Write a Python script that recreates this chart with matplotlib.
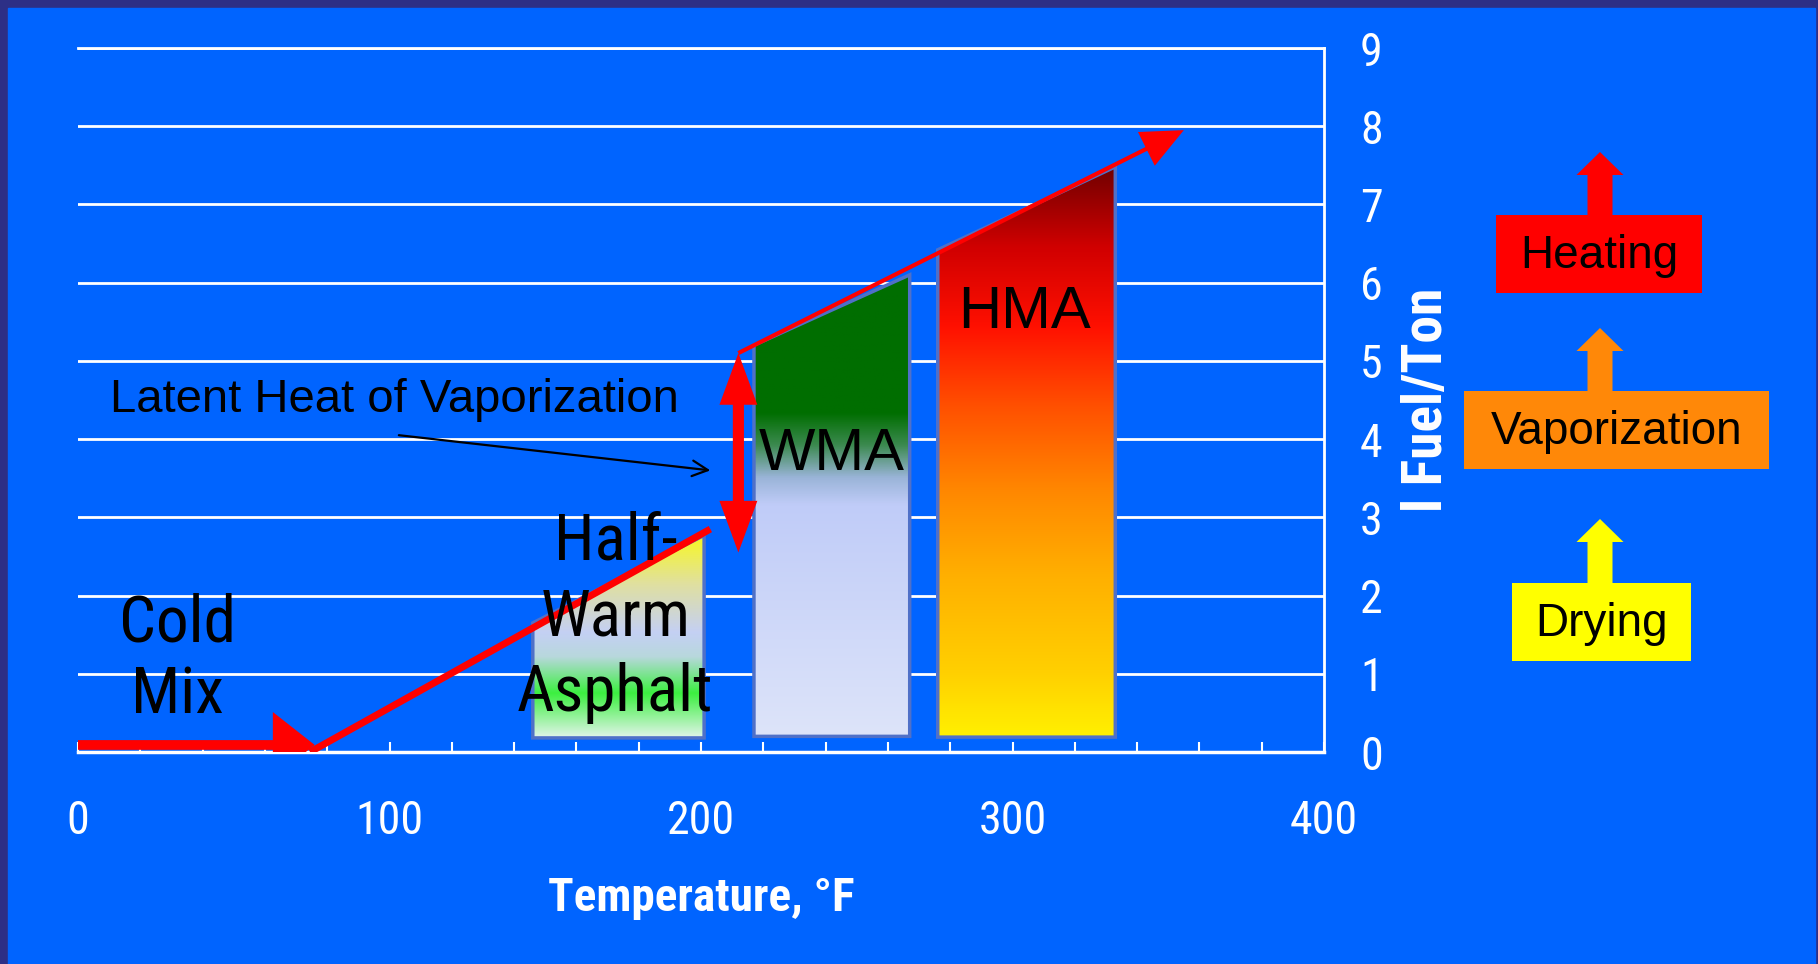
import numpy as np
import matplotlib
matplotlib.use('Agg')
import matplotlib.pyplot as plt
from matplotlib import font_manager
from matplotlib.colors import LinearSegmentedColormap
from matplotlib.patches import Polygon, Rectangle, FancyArrowPatch

# --- data ---
temp_ticks = [0, 100, 200, 300, 400]
fuel_ticks = [0, 1, 2, 3, 4, 5, 6, 7, 8, 9]

zone_labels = ['Half-\nWarm\nAsphalt', 'WMA', 'HMA']
zone_left = [146, 217, 276]
zone_right = [201, 267, 333]
zone_bottom = [0.18, 0.20, 0.19]
zone_top_left = [1.65, 5.20, 6.42]
zone_top_right = [2.77, 6.10, 7.48]
zone_label_x = [172.5, 242, 304]
zone_label_y = [1.72, 3.80, 5.62]

# gradient stops (fraction from bottom, colour)
zone_gradients = [
    [(0.0, '#e2f4ea'), (0.22, '#3cf040'), (0.40, '#b8d8dc'), (0.52, '#c4d0f4'),
     (0.76, '#e0e0a0'), (1.0, '#f8f820')],
    [(0.0, '#dde4fa'), (0.50, '#c0ccf8'), (0.56, '#9ab4d8'), (0.63, '#3c8a50'),
     (0.70, '#006e00'), (1.0, '#006e00')],
    [(0.0, '#fff000'), (0.11, '#ffd000'), (0.28, '#ffb000'), (0.43, '#ff8800'),
     (0.58, '#ff5000'), (0.72, '#ff1000'), (0.86, '#d00000'), (1.0, '#700000')],
]

# red energy path
cold_x = [0, 76]
cold_y = [0.09, 0.09]
ramp_x = [74.5, 203]
ramp_y = [0.0, 2.85]
latent_x = [212, 212]
latent_y = [2.55, 5.1]
heat_x = [212, 355]
heat_y = [5.1, 7.95]

latent_text = 'Latent Heat of Vaporization'
latent_from = (103, 4.05)
latent_to = (203, 3.6)

stage_labels = ['Drying', 'Vaporization', 'Heating']
stage_colors = ['#ffff00', '#ff8808', '#ff0000']

# --- layout ---
W, H = 1818, 964
BLUE = '#0064ff'
installed = {f.name for f in font_manager.fontManager.ttflist}
if 'Roboto Condensed' in installed:
    NARROW, NS = 'Roboto Condensed', 1.0
elif 'Liberation Sans Narrow' in installed:
    NARROW, NS = 'Liberation Sans Narrow', 1.0
else:
    NARROW, NS = 'Liberation Sans', 0.82

fig = plt.figure(figsize=(W / 100, H / 100), dpi=100)
fig.patch.set_facecolor('#2d2f86')

deco = fig.add_axes([0, 0, 1, 1])
deco.set_xlim(0, W)
deco.set_ylim(H, 0)
deco.axis('off')
deco.add_patch(Rectangle((8, 8), W - 11, H - 8, color=BLUE))

ax = fig.add_axes([78 / W, 1 - 752 / H, (1324 - 78) / W, (752 - 48) / H])
ax.set_zorder(2)
ax.set_facecolor('none')

# gradient filled trapezoids
grad = np.linspace(0, 1, 256).reshape(-1, 1)
for i in range(len(zone_labels)):
    verts = [(zone_left[i], zone_bottom[i]), (zone_right[i], zone_bottom[i]),
             (zone_right[i], zone_top_right[i]), (zone_left[i], zone_top_left[i])]
    top = max(zone_top_left[i], zone_top_right[i])
    cmap = LinearSegmentedColormap.from_list('z%d' % i, zone_gradients[i])
    im = ax.imshow(grad, cmap=cmap, origin='lower', aspect='auto', zorder=2,
                   extent=[zone_left[i], zone_right[i], zone_bottom[i], top])
    poly = Polygon(verts, closed=True, facecolor='none', edgecolor='#4f70c8', lw=2.5, zorder=3)
    ax.add_patch(poly)
    im.set_clip_path(poly)

# red arrows
def red_arrow(xs, ys, style, lw, ms):
    a = FancyArrowPatch((xs[0], ys[0]), (xs[1], ys[1]), arrowstyle=style, mutation_scale=ms,
                        color='#ff0000', lw=lw, shrinkA=0, shrinkB=0, zorder=4,
                        joinstyle='miter', capstyle='butt')
    ax.add_patch(a)

red_arrow(cold_x, cold_y, '-|>,head_length=0.7,head_width=0.55', 7, 30)
ax.plot(ramp_x, ramp_y, color='#ff0000', lw=5, zorder=4, solid_capstyle='butt')
red_arrow(latent_x, latent_y, '<|-|>,head_length=0.6,head_width=0.22', 8, 36)
red_arrow(heat_x, heat_y, '-|>,head_length=1.0,head_width=0.45', 3, 25)

# labels on the chart
ax.text(32, 1.19, 'Cold\nMix', ha='center', va='center', fontsize=47 * NS,
        family=NARROW, linespacing=1.2, zorder=5)
ax.text(zone_label_x[0], zone_label_y[0], zone_labels[0], ha='center', va='center',
        fontsize=47 * NS, family=NARROW, linespacing=1.28, zorder=5)
for i in (1, 2):
    ax.text(zone_label_x[i], zone_label_y[i], zone_labels[i], ha='center', va='center',
            fontsize=43, family='Liberation Sans', zorder=5)

ax.text(10.3, 4.5, latent_text, ha='left', va='center', fontsize=34,
        family='Liberation Sans', zorder=5)
ax.annotate('', xy=latent_to, xytext=latent_from,
            arrowprops=dict(arrowstyle='->', color='black', lw=1.6,
                            mutation_scale=28, shrinkA=0, shrinkB=0), zorder=5)

# axes styling
ax.set_xlim(0, 400)
ax.set_ylim(0, 9)
ax.set_xticks(temp_ticks)
ax.set_xticks(np.arange(0, 401, 20), minor=True)
ax.set_yticks(fuel_ticks)
ax.yaxis.tick_right()
ax.grid(axis='y', color='white', lw=2)
ax.set_axisbelow(True)
ax.spines['left'].set_visible(False)
for side in ('top', 'right', 'bottom'):
    ax.spines[side].set_color('white')
    ax.spines[side].set_linewidth(2)
ax.spines['bottom'].set_linewidth(2.5)
ax.tick_params(axis='x', which='both', direction='in', length=7, width=1.5,
               colors='white', pad=34, labelsize=33 * NS)
ax.tick_params(axis='y', length=0, pad=26, colors='white', labelsize=33 * NS)
for lab in ax.get_xticklabels() + ax.get_yticklabels():
    lab.set_family(NARROW)

ax.set_xlabel('Temperature, °F', fontsize=34 * NS, family=NARROW, fontweight='bold', color='white')
ax.xaxis.set_label_coords(0.5, (752 - 898) / 704)
ax.xaxis.label.set_va('center')
ax.set_ylabel('l Fuel/Ton', fontsize=40 * NS, family=NARROW, fontweight='bold',
              color='white', rotation=90)
ax.yaxis.set_label_position('right')
ax.yaxis.set_label_coords((1427 - 78) / 1246, 0.5)
ax.yaxis.label.set_va('center')
ax.yaxis.label.set_ha('center')

# stage boxes with block arrows on the right
boxes = [(1512, 583, 1691, 661, 519), (1464, 391, 1769, 469, 328), (1496, 215, 1702, 293, 152)]
cx = 1600
for label, color, (x0, y0, x1, y1, tip) in zip(stage_labels, stage_colors, boxes):
    deco.add_patch(Rectangle((x0, y0), x1 - x0, y1 - y0, color=color, lw=0))
    deco.add_patch(Polygon([(cx - 12.5, y0), (cx - 12.5, tip + 23), (cx - 23.5, tip + 23),
                            (cx, tip), (cx + 23.5, tip + 23), (cx + 12.5, tip + 23),
                            (cx + 12.5, y0)], closed=True, color=color, lw=0))
    deco.text((x0 + x1) / 2, (y0 + y1) / 2 + 2, label, ha='center', va='center',
              fontsize=33, family='Liberation Sans', color='black')

fig.savefig('out.png', dpi=100, facecolor=fig.get_facecolor())
